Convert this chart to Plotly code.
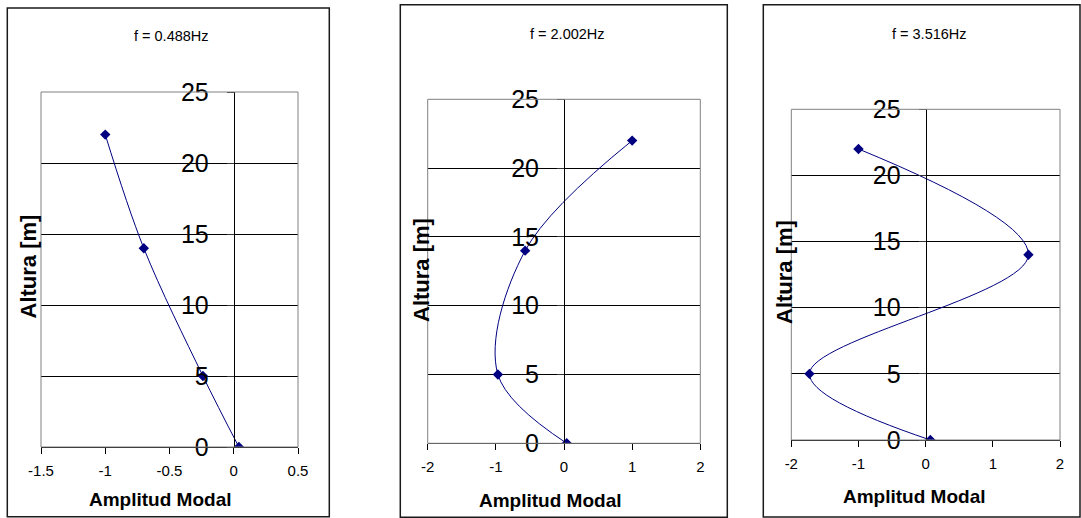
import plotly.graph_objects as go

W, H = 1081, 518

# ---- data ----
altura = [0, 5, 14, 22]
modo1 = [0.04, -0.24, -0.70, -1.00]
modo2 = [0.04, -0.97, -0.57, 1.00]
modo3 = [0.07, -1.73, 1.53, -1.00]
titulos = ["f = 0.488Hz", "f = 2.002Hz", "f = 3.516Hz"]
x_ranges = [[-1.5, 0.5], [-2, 2], [-2, 2]]
x_ticks = [[-1.5, -1, -0.5, 0, 0.5], [-2, -1, 0, 1, 2], [-2, -1, 0, 1, 2]]
x_ticktext = [["-1.5", "-1", "-0.5", "0", "0.5"],
              ["-2", "-1", "0", "1", "2"],
              ["-2", "-1", "0", "1", "2"]]
y_ticks = [0, 5, 10, 15, 20, 25]
x_title = "Amplitud Modal"
y_title = "Altura [m]"

# ---- layout geometry (pixels) ----
plots = [(41, 92, 298, 447), (427.7, 99.3, 700.3, 443.3), (791.3, 109.3, 1060, 440)]
frames = [(7.3, 8, 329.3, 516.7), (400.3, 4.7, 727.3, 517.3), (763.3, 4.7, 1080, 517)]
title_pos = [(171, 36), (567, 33.5), (929.5, 34)]
xt_pos = [(160, 499), (550, 500), (914, 496)]
yt_pos = [(27.5, 267), (421, 270), (784, 272)]

FONT = "Arial, Liberation Sans, sans-serif"
NAVY = "#000080"

def px(x):
    return x / W

def py(y):
    return 1 - y / H

fig = go.Figure()
series = [modo1, modo2, modo3]
shapes = []
annotations = []

for i in range(3):
    n = "" if i == 0 else str(i + 1)
    l, t, r, b = plots[i]
    xr = x_ranges[i]
    fig.add_trace(go.Scatter(
        x=series[i], y=altura, xaxis="x" + n, yaxis="y" + n,
        mode="lines+markers",
        line=dict(color=NAVY, width=1, shape="spline", smoothing=1),
        marker=dict(symbol="diamond", size=8, color=NAVY),
        showlegend=False, hoverinfo="skip",
    ))
    zero_px = l + (0 - xr[0]) / (xr[1] - xr[0]) * (r - l)
    fig.layout["xaxis" + n] = dict(
        domain=[px(l), px(r)], range=xr, anchor="y" + n,
        tickvals=x_ticks[i], ticktext=x_ticktext[i],
        showgrid=False, zeroline=False, automargin=False,
        showline=True, linecolor="black", linewidth=1,
        ticks="outside", ticklen=6, tickcolor="black",
        tickfont=dict(family=FONT, size=15, color="black"),
        ticklabelstandoff=4, fixedrange=True,
    )
    fig.layout["yaxis" + n] = dict(
        domain=[py(b), py(t)], range=[0, 25], anchor="free",
        position=px(zero_px), automargin=False,
        tickvals=y_ticks, showgrid=True, gridcolor="black", gridwidth=1,
        zeroline=False, showline=True, linecolor="black", linewidth=1,
        ticks="outside", ticklen=7, tickcolor="#333333",
        tickfont=dict(family=FONT, size=25, color="black"),
        ticklabelstandoff=13, fixedrange=True,
    )
    # plot-area border (gray)
    shapes.append(dict(type="rect", xref="paper", yref="paper",
                       x0=px(l), x1=px(r), y0=py(b), y1=py(t),
                       line=dict(color="#808080", width=1), layer="above"))
    # outer chart frame
    fl, ft, fr, fb = frames[i]
    shapes.append(dict(type="rect", xref="paper", yref="paper",
                       x0=px(fl), x1=px(fr), y0=py(fb), y1=py(ft),
                       line=dict(color="#1a1a1a", width=1.5), layer="above"))
    annotations.append(dict(text=titulos[i], xref="paper", yref="paper",
                            x=px(title_pos[i][0]), y=py(title_pos[i][1]),
                            showarrow=False, xanchor="center", yanchor="middle",
                            font=dict(family=FONT, size=14.5, color="black")))
    annotations.append(dict(text="<b>" + x_title + "</b>", xref="paper", yref="paper",
                            x=px(xt_pos[i][0]), y=py(xt_pos[i][1]),
                            showarrow=False, xanchor="center", yanchor="middle",
                            font=dict(family=FONT, size=19, color="black")))
    annotations.append(dict(text="<b>" + y_title + "</b>", xref="paper", yref="paper",
                            x=px(yt_pos[i][0]), y=py(yt_pos[i][1]),
                            showarrow=False, xanchor="center", yanchor="middle",
                            textangle=-90,
                            font=dict(family=FONT, size=22, color="black")))

fig.update_layout(
    width=W, height=H, autosize=False,
    margin=dict(l=0, r=0, t=0, b=0, pad=0, autoexpand=False),
    paper_bgcolor="white", plot_bgcolor="white",
    shapes=shapes, annotations=annotations,
)

fig.write_html(
    "out.html",
    config={"displayModeBar": False},
    post_script="document.body.style.margin='0';document.body.style.overflow='hidden';",
)
